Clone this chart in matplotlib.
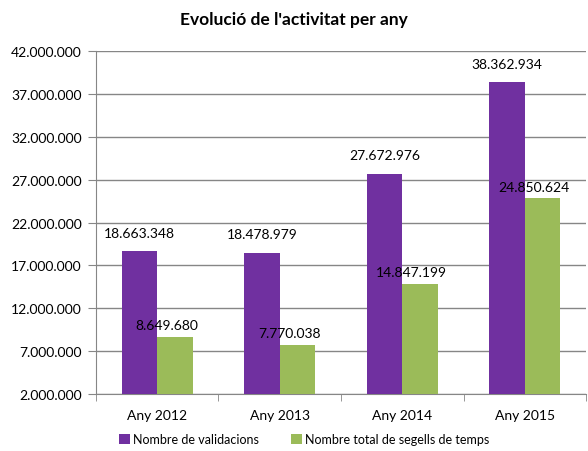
import matplotlib.pyplot as plt
import numpy as np
from matplotlib.ticker import FuncFormatter

plt.rcParams['font.family'] = ['Lato', 'DejaVu Sans']

years = ['Any 2012', 'Any 2013', 'Any 2014', 'Any 2015']
validacions = [18663348, 18478979, 27672976, 38362934]
segells = [8649680, 7770038, 14847199, 24850624]
series_names = ['Nombre de validacions', 'Nombre total de segells de temps']

purple = '#7030A0'
green = '#9BBB59'
grid_col = '#868686'


def fmt(v):
    return '{:,.0f}'.format(v).replace(',', '.')


fig = plt.figure(figsize=(5.88, 4.52), dpi=100)
ax = fig.add_axes([0.163, 0.126, 0.834, 0.759])

x = np.arange(len(years))
w = 0.29
b1 = ax.bar(x - w / 2, np.array(validacions) - 2000000, w, bottom=2000000,
            color=purple, label=series_names[0], zorder=3)
b2 = ax.bar(x + w / 2, np.array(segells) - 2000000, w, bottom=2000000,
            color=green, label=series_names[1], zorder=3)

for xi, v in zip(x - w / 2, validacions):
    ax.annotate(fmt(v), (xi, v), xytext=(0, 9), textcoords='offset points',
                ha='center', va='bottom', fontsize=10)
for xi, v in zip(x + w / 2, segells):
    ax.annotate(fmt(v), (xi, v), xytext=(-6, 4), textcoords='offset points',
                ha='center', va='bottom', fontsize=10)

ax.set_ylim(2000000, 42000000)
ax.set_yticks(np.arange(2000000, 42000001, 5000000))
ax.yaxis.set_major_formatter(FuncFormatter(lambda v, p: fmt(v)))
ax.set_xlim(-0.5, len(years) - 0.5)
ax.set_xticks(x)
ax.set_xticklabels(years)
ax.set_xticks(np.arange(-0.5, len(years)), minor=True)
ax.tick_params(axis='x', which='major', length=0, pad=11, labelsize=10)
ax.tick_params(axis='x', which='minor', length=5, color=grid_col)
ax.tick_params(axis='y', length=6, color=grid_col, labelsize=10, pad=4)

ax.grid(axis='y', color=grid_col, linewidth=1, zorder=0)
for s in ['top', 'right']:
    ax.spines[s].set_visible(False)
ax.spines['left'].set_color(grid_col)
ax.spines['bottom'].set_color(grid_col)

fig.text(0.5, 0.955, "Evolució de l'activitat per any", ha='center', va='center',
         fontsize=12.5, fontweight='bold')

fig.legend(handles=[b1, b2], loc='center', bbox_to_anchor=(0.517, 0.026), ncol=2,
           frameon=False, fontsize=9, handlelength=0.9, handleheight=0.9,
           handletextpad=0.2, columnspacing=2.6)

fig.savefig('out.png', dpi=100)
